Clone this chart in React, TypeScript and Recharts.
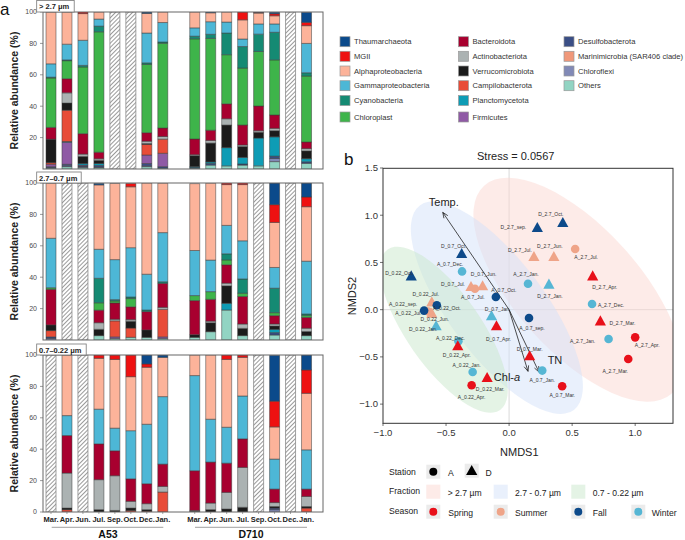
import React from 'react';
import { BarChart, Bar, XAxis, YAxis, ScatterChart, Scatter, ReferenceLine } from 'recharts';

const FONT = '"Liberation Sans", Arial, sans-serif';
const N = null;

// ---------- panel a: sample slots ----------
const months = ['Mar.', 'Apr.', 'Jun.', 'Jul.', 'Sep.', 'Oct.', 'Dec.', 'Jan.'];
const stations = ['A53', 'D710'];

// stacking order, bottom -> top
const taxa = [
  'Others', 'Chloroflexi', 'Marinimicrobia (SAR406 clade)', 'Desulfobacterota', 'Firmicutes',
  'Planctomycetota', 'Campilobacterota', 'Verrucomicrobiota', 'Actinobacteriota', 'Bacteroidota',
  'Chloroplast', 'Cyanobacteria', 'Gammaproteobacteria', 'Alphaproteobacteria', 'MGII', 'Thaumarchaeota',
];

// values: A53 Mar..Jan, then D710 Mar..Jan ; null = no sample (hatched)
// > 2.7 µm
const topThaum = [0, 0, 0, 0, N, N, 0.9, 0, 0, 0.5, 0, 0, 0.3, 1, N, 6.4];
const topMGII = [0, 0, 1, 0, N, N, 0, 0, 0, 0, 0, 5, 0.5, 1.3, N, 2.1];
const topAlpha = [33, 20.5, 17, 4.5, N, N, 12.5, 6.7, 10.1, 5.7, 6.4, 12.2, 6.9, 5.2, N, 11.3];
const topGamma = [8.5, 10, 16, 4.5, N, N, 19, 12.4, 5.3, 8, 7, 4.8, 6.5, 5.3, N, 18.7];
const topCyano = [0.5, 0.5, 1, 3.6, N, N, 1, 0.8, 1.7, 2.6, 13.8, 13.7, 11, 17.6, N, 2.1];
const topChloroplast = [31.5, 11.5, 42.5, 76.7, N, N, 43.5, 54, 63.8, 58.5, 31.3, 36.3, 34.8, 35.1, N, 42];
const topBactero = [7.5, 9, 13, 4.2, N, N, 5.4, 5.4, 10, 6.5, 9.5, 12.7, 15.7, 8.5, N, 4.2];
const topActino = [0, 6.5, 1.5, 1, N, N, 1.5, 1.7, 0.6, 1.7, 4, 1, 1, 1.5, N, 1.5];
const topVerruco = [15, 4.5, 4.5, 2, N, N, 0.5, 0, 7, 12, 14.4, 6.9, 3.7, 3.9, N, 4.9];
const topCampilo = [1, 20, 0, 0, N, N, 6.8, 9, 0, 0, 0, 0, 0, 0, N, 0];
const topPlancto = [0, 0.5, 1, 1.2, N, N, 0, 0, 0.5, 1, 11.6, 4.2, 17.7, 12.3, N, 2];
const topFirmi = [1.5, 14, 0.5, 0, N, N, 5.4, 8.5, 0, 0, 0, 0, 0, 0, N, 0];
const topDesulfo = [0.5, 1, 0.5, 1, N, N, 1.5, 1, 0.5, 1, 0, 0.7, 0, 1.5, N, 1];
const topChloroflexi = [0.5, 0.5, 0.5, 0.3, N, N, 0.5, 0, 0, 0, 0, 0, 0, 2, N, 0];
const topOthers = [0.5, 1.5, 1, 1, N, N, 1.5, 0.5, 0.5, 2.5, 2, 2.5, 2, 4.7, N, 3.6];

// 2.7 - 0.7 µm
const midThaum = [0, N, N, 1, 0, 0, 0, 0, 0, 0, 0, 0, N, 13.8, N, 9.1];
const midMGII = [0, N, N, 0, 0, 2.1, 0, 0, 0, 0, 1, 1, N, 11.3, N, 6.2];
const midAlpha = [35.1, N, N, 41, 48.5, 38.8, 58.1, 31.5, 42.6, 49, 26, 35.8, N, 28.7, N, 34.7];
const midGamma = [31.5, N, N, 18.5, 25.5, 31.4, 22.8, 31.3, 28.7, 20.1, 18.1, 24.3, N, 13.2, N, 33.6];
const midCyano = [0, N, N, 15.6, 0.8, 1, 1, 1, 0, 0, 3.9, 9.1, N, 15.6, N, 0.9];
const midChloroplast = [1, N, N, 4.7, 1.3, 5.3, 0, 0, 3.2, 4.9, 3.1, 2.1, N, 1.9, N, 1.3];
const midBactero = [22.7, N, N, 8, 10.4, 8.1, 11.7, 15.3, 21.7, 13.9, 11.7, 17.5, N, 5.3, N, 6.9];
const midActino = [0, N, N, 4.2, 1, 1, 0, 1.3, 0, 1, 1.7, 2.8, N, 1.3, N, 2.1];
const midVerruco = [3.6, N, N, 4, 0, 4.4, 4.7, 0, 1.7, 5.7, 11.1, 4.6, N, 2.1, N, 2.6];
const midCampilo = [4, N, N, 0, 10.2, 5.9, 0, 17.5, 0, 0, 0, 0, N, 0, N, 0];
const midPlancto = [0, N, N, 0, 0, 0, 0, 0, 0, 0, 4.3, 0, N, 2.1, N, 0];
const midFirmi = [0, N, N, 0, 1, 0, 0, 1, 0, 0, 0, 0, N, 0, N, 0];
const midDesulfo = [1, N, N, 0, 0, 0, 0, 0, 0, 0, 0, 0, N, 1.5, N, 0];
const midChloroflexi = [1, N, N, 0, 0, 0, 0, 0, 0, 0, 0, 0, N, 0, N, 0];
const midOthers = [0, N, N, 2.8, 1, 1.7, 1.7, 1, 1.7, 5.3, 19.1, 2.8, N, 3.2, N, 2.8];

// 0.7 - 0.22 µm
const lowThaum = [N, 0, N, 0, 0, 0, 5.7, 1.5, 0, 0, 0, 0, N, 29.2, N, 9.5];
const lowMGII = [N, 0, N, 2.1, 2.8, 13.8, 2.1, 0, 0, 0, 2.8, 1.5, N, 16.4, N, 14.9];
const lowAlpha = [N, 38.6, N, 32.4, 43.8, 34.4, 36.3, 25, 13.1, 40.9, 43.2, 24.6, N, 20.5, N, 36];
const lowGamma = [N, 12.7, N, 22.1, 14.4, 30.7, 37.9, 43, 60.6, 27.3, 22.9, 27.3, N, 19.1, N, 25];
const lowBactero = [N, 23.9, N, 22.8, 15.9, 14.3, 12.7, 14.2, 25.3, 26.1, 18.6, 18.2, N, 8.6, N, 4.7];
const lowActino = [N, 22.3, N, 19.1, 22.1, 4.3, 3.8, 3.6, 0.5, 4.2, 10.6, 25.4, N, 2.5, N, 6.4];
const lowVerruco = [N, 1, N, 1.5, 1, 1.5, 1, 0, 0.5, 1.5, 1.9, 3, N, 1, N, 1];
const lowCampilo = [N, 1.5, N, 0, 0, 1, 0.5, 12.7, 0, 0, 0, 0, N, 0, N, 2.5];
const lowDesulfo = [N, 0, N, 0, 0, 0, 0, 0, 0, 0, 0, 0, N, 1, N, 0];
const lowChloroflexi = [N, 0, N, 0, 0, 0, 0, 0, 0, 0, 0, 0, N, 1.5, N, 0];

const taxonColors: Record<string, string> = {
  Thaumarchaeota: '#0B4A8B',
  MGII: '#EE1111',
  Alphaproteobacteria: '#FCB39A',
  Gammaproteobacteria: '#4DB7D6',
  Cyanobacteria: '#158A73',
  Chloroplast: '#3EB44A',
  Bacteroidota: '#A8002F',
  Actinobacteriota: '#ABB2B2',
  Verrucomicrobiota: '#1B1B1B',
  Campilobacterota: '#E84C38',
  Planctomycetota: '#0E9CB5',
  Firmicutes: '#8F5AA5',
  Desulfobacterota: '#3A4E85',
  'Marinimicrobia (SAR406 clade)': '#F0987A',
  Chloroflexi: '#8189B6',
  Others: '#92D4C3',
};

type Series = Record<string, (number | null)[]>;

const topSeries: Series = {
  Thaumarchaeota: topThaum, MGII: topMGII, Alphaproteobacteria: topAlpha, Gammaproteobacteria: topGamma,
  Cyanobacteria: topCyano, Chloroplast: topChloroplast, Bacteroidota: topBactero, Actinobacteriota: topActino,
  Verrucomicrobiota: topVerruco, Campilobacterota: topCampilo, Planctomycetota: topPlancto, Firmicutes: topFirmi,
  Desulfobacterota: topDesulfo, Chloroflexi: topChloroflexi, Others: topOthers,
};
const midSeries: Series = {
  Thaumarchaeota: midThaum, MGII: midMGII, Alphaproteobacteria: midAlpha, Gammaproteobacteria: midGamma,
  Cyanobacteria: midCyano, Chloroplast: midChloroplast, Bacteroidota: midBactero, Actinobacteriota: midActino,
  Verrucomicrobiota: midVerruco, Campilobacterota: midCampilo, Planctomycetota: midPlancto, Firmicutes: midFirmi,
  Desulfobacterota: midDesulfo, Chloroflexi: midChloroflexi, Others: midOthers,
};
const lowSeries: Series = {
  Thaumarchaeota: lowThaum, MGII: lowMGII, Alphaproteobacteria: lowAlpha, Gammaproteobacteria: lowGamma,
  Bacteroidota: lowBactero, Actinobacteriota: lowActino, Verrucomicrobiota: lowVerruco,
  Campilobacterota: lowCampilo, Desulfobacterota: lowDesulfo, Chloroflexi: lowChloroflexi,
};

const buildRows = (series: Series) => {
  const rows: any[] = [];
  stations.forEach((st, s) => {
    if (s === 1) rows.push({ key: 'gap' });
    months.forEach((m, k) => {
      const i = s * 8 + k;
      const missing = series.Alphaproteobacteria[i] === null;
      const row: any = { key: `${st}|${m}`, NA: missing ? 100 : 0 };
      taxa.forEach((t) => {
        row[t] = missing ? 0 : (series[t]?.[i] ?? 0);
      });
      rows.push(row);
    });
  });
  return rows;
};

const MonthTick = (p: any) => {
  const { x, y, payload } = p;
  if (payload.value === 'gap') return null;
  return (
    <g>
      <line x1={x} y1={y - 4} x2={x} y2={y - 2} stroke="#666" strokeWidth={0.6} />
      <text x={x} y={y + 6} textAnchor="middle" fontSize={7.5} fontWeight="bold" fill="#222" fontFamily={FONT}>
        {payload.value.split('|')[1]}
      </text>
    </g>
  );
};

const AbundancePanel = ({ series, top, showMonths }: { series: Series; top: number; showMonths?: boolean }) => {
  const rows = buildRows(series);
  return (
    <div style={{ position: 'absolute', left: 0, top }}>
      <BarChart
        width={330}
        height={showMonths ? 185 : 172}
        data={rows}
        margin={{ top: 12, right: 7, bottom: showMonths ? 0 : 3, left: 0 }}
        barSize={10}
      >
        <XAxis
          dataKey="key"
          type="category"
          hide={!showMonths}
          height={16}
          interval={0}
          padding={{ left: 0, right: 8.5 }}
          axisLine={false}
          tickLine={false}
          tickSize={2}
          tickMargin={2}
          tick={<MonthTick />}
        />
        <YAxis
          width={43}
          type="number"
          domain={[0, 100]}
          allowDataOverflow
          ticks={[0, 20, 40, 60, 80, 100]}
          axisLine={false}
          tickSize={3}
          tickMargin={3}
          tickLine={{ stroke: '#555', strokeWidth: 0.6 }}
          tick={{ fontSize: 7, fill: '#4d4d4d', fontFamily: FONT }}
        />
        {taxa.map((t) => (
          <Bar key={t} dataKey={t} stackId="s" fill={taxonColors[t]} stroke="#3a3a3a" strokeWidth={0.5} isAnimationActive={false} />
        ))}
        <Bar dataKey="NA" stackId="s" fill="url(#hatch)" stroke="#8a8a8a" strokeWidth={0.8} isAnimationActive={false} />
      </BarChart>
    </div>
  );
};

// ---------- panel b: NMDS ----------
const sampleNames = [
  'D_2.7_sep.', 'D_2.7_Oct.', 'A_2.7_Jul.', 'D_2.7_Jul.', 'D_2.7_Jun.', 'A_2.7_Jan.', 'D_2.7_Jan.',
  'D_2.7_Apr.', 'A_2.7_Dec.', 'D_2.7_Mar.', 'A_2.7_Jan.', 'A_2.7_Apr.', 'A_2.7_Mar.',
  'D_0.7_Oct.', 'A_0.7_Dec.', 'D_0.7_Jun.', 'D_0.7_Jul.', 'A_0.7_Jul.', 'A_0.7_Oct.', 'D_0.7_Jan.',
  'D_0.7_Apr.', 'A_0.7_sep.', 'D_0.7_Mar.', 'A_0.7_Jan.', 'A_0.7_Mar.',
  'D_0.22_Oct.', 'A_0.22_Jul.', 'D_0.22_Jul.', 'A_0.22_sep.', 'A_0.22_Oct.', 'D_0.22_Jun.', 'D_0.22_Jan.',
  'A_0.22_Dec.', 'D_0.22_Apr.', 'A_0.22_Jan.', 'D_0.22_Mar.', 'A_0.22_Apr.',
];
const nmds1 = [
  0.224, 0.426, 0.524, 0.197, 0.355, 0.15, 0.316, 0.663, 0.658, 0.724, 0.789, 1.0, 0.945,
  -0.376, -0.373, -0.21, -0.302, -0.271, -0.105, -0.139, -0.1, 0.158, 0.163, 0.263, 0.421,
  -0.776, -0.64, -0.613, -0.674, -0.573, -0.613, -0.579, -0.402, -0.407, -0.289, -0.174, -0.297,
];
const nmds2 = [
  0.865, 0.917, 0.642, 0.557, 0.557, 0.275, 0.265, 0.352, 0.06, -0.124, -0.31, -0.293, -0.522,
  0.589, 0.405, 0.247, 0.24, 0.222, 0.134, -0.07, -0.176, -0.088, -0.494, -0.645, -0.811,
  0.352, -0.02, 0.077, -0.01, 0.046, -0.042, -0.176, -0.335, -0.388, -0.66, -0.723, -0.8,
];
// label placement (px) relative to each point, ggrepel-like
const labelNudge: [number, number][] = [
  [-24, -1], [-12, -9], [11, 8], [-14, -7], [-4, -11], [-2, -10], [1, 11], [12, 11], [19, 1], [22, 2], [-26, 2], [12, 8], [-13, 12],
  [-8, -8], [-12, -7], [1, -12], [-18, -3], [-2, 8], [8, -7], [6, -7], [2, 13], [3, 10], [0, -7], [0, 9], [0, 9],
  [-12, -3], [-20, 1], [-6, -8], [-21, -7], [10, 3], [3, 5], [-13, 3], [-8, -3], [-1, 9], [-6, -7], [3, 11], [0, 12],
];

const seasons = ['Spring', 'Summer', 'Fall', 'Winter'];
const seasonOfMonth: Record<string, string> = {
  'Mar.': 'Spring', 'Apr.': 'Spring', 'Jun.': 'Summer', 'Jul.': 'Summer',
  'sep.': 'Fall', 'Oct.': 'Fall', 'Dec.': 'Winter', 'Jan.': 'Winter',
};
const seasonColors: Record<string, string> = {
  Spring: '#E8101A', Summer: '#EFA488', Fall: '#0D4A8A', Winter: '#56B6D4',
};

const fractions = ['> 2.7 µm', '2.7 - 0.7 µm', '0.7 - 0.22 µm'];
const ellipseX = [0.545, -0.097, -0.517];
const ellipseY = [0.211, 0.021, -0.212];
const ellipseStyle = [
  { rx: 140, ry: 62, angle: 48, fill: '#FBD7D1' },
  { rx: 128, ry: 48, angle: 53, fill: '#D3E1F9' },
  { rx: 98, ry: 37, angle: 55, fill: '#C9E7CB' },
];

const envNames = ['Temp.', 'TN', 'Chl-a'];
const envX = [-0.526, 0.237, 0.15];
const envY = [1.03, -0.66, -0.653];
const envLabelNudge: [number, number][] = [[1, -10], [16, -12], [-21, 6]];

// plot size of the NMDS chart (px per unit, for arrow-head direction)
const PX_PER_X = 290 / 2.3;
const PX_PER_Y = 255 / 2.7;

const samplePoints = sampleNames.map((name, i) => ({
  name,
  x: nmds1[i],
  y: nmds2[i],
  station: name[0],
  season: seasonOfMonth[name.split('_')[2]],
  idx: i,
}));
const ellipsePoints = fractions.map((f, i) => ({ fraction: f, x: ellipseX[i], y: ellipseY[i], idx: i }));

const ellipseShape = (p: any) => {
  const e = ellipseStyle[p.payload.idx];
  return (
    <ellipse cx={p.cx} cy={p.cy} rx={e.rx} ry={e.ry} fill={e.fill} fillOpacity={0.5}
      transform={`rotate(${e.angle} ${p.cx} ${p.cy})`} />
  );
};

const triPoints = (cx: number, cy: number, s = 5.6) => `${cx},${cy - s * 1.08} ${cx - s},${cy + s * 0.72} ${cx + s},${cy + s * 0.72}`;

const pointShape = (p: any) => {
  const { cx, cy, payload } = p;
  const color = seasonColors[payload.season];
  const [dx, dy] = labelNudge[payload.idx];
  return (
    <g>
      {payload.station === 'A'
        ? <circle cx={cx} cy={cy} r={4.3} fill={color} />
        : <polygon points={triPoints(cx, cy)} fill={color} />}
      <text x={cx + dx} y={cy + dy} fontSize={5} textAnchor="middle" dominantBaseline="central" fill="#333" fontFamily={FONT}>
        {payload.name}
      </text>
    </g>
  );
};

const arrowTip = (p: any) => {
  const { cx, cy, payload } = p;
  if (!payload.tip) return <g />;
  const i = payload.env;
  const a = Math.atan2(-envY[i] * PX_PER_Y, envX[i] * PX_PER_X);
  const h = 6;
  const w = 0.4;
  const [dx, dy] = envLabelNudge[i];
  return (
    <g>
      <line x1={cx} y1={cy} x2={cx - h * Math.cos(a - w)} y2={cy - h * Math.sin(a - w)} stroke="#222" strokeWidth={0.8} />
      <line x1={cx} y1={cy} x2={cx - h * Math.cos(a + w)} y2={cy - h * Math.sin(a + w)} stroke="#222" strokeWidth={0.8} />
      <text x={cx + dx} y={cy + dy} fontSize={11} textAnchor="middle" dominantBaseline="central" fill="#222" fontFamily={FONT}>
        {envNames[i] === 'Chl-a' ? <>Chl-<tspan fontStyle="italic">a</tspan></> : envNames[i]}
      </text>
    </g>
  );
};

const fmt = (v: number) => (v < 0 ? '\u2212' : '') + Math.abs(v).toFixed(1);

const legendRowsA = [
  ['Thaumarchaeota', 'MGII', 'Alphaproteobacteria', 'Gammaproteobacteria', 'Cyanobacteria', 'Chloroplast'],
  ['Bacteroidota', 'Actinobacteriota', 'Verrucomicrobiota', 'Campilobacterota', 'Planctomycetota', 'Firmicutes'],
  ['Desulfobacterota', 'Marinimicrobia (SAR406 clade)', 'Chloroflexi', 'Others'],
];
const legendColX = [340, 458.5, 564];
const legendRowY = [41.7, 56.3, 71, 85.7, 100.5, 117];

export default function App() {
  return (
    <div style={{ position: 'absolute', left: 0, top: 0, width: 685, height: 540, background: '#fff', fontFamily: FONT }}>
      <svg width={0} height={0} style={{ position: 'absolute' }}>
        <defs>
          <pattern id="hatch" patternUnits="userSpaceOnUse" width={3} height={3} patternTransform="rotate(45)">
            <rect width={3} height={3} fill="#fff" />
            <line x1={0.5} y1={0} x2={0.5} y2={3} stroke="#9a9a9a" strokeWidth={1} />
          </pattern>
        </defs>
      </svg>

      <AbundancePanel series={topSeries} top={0} />
      <AbundancePanel series={midSeries} top={171} />
      <AbundancePanel series={lowSeries} top={343} showMonths />

      <div style={{ position: 'absolute', left: 335, top: 140 }}>
        <ScatterChart width={350} height={305} margin={{ top: 28, right: 12, bottom: 0, left: 0 }}>
          <XAxis dataKey="x" type="number" domain={[-1, 1.3]} allowDataOverflow ticks={[-1, -0.5, 0, 0.5, 1]}
            tickFormatter={fmt} height={22} axisLine={false} tickSize={3} tickMargin={3}
            tickLine={{ stroke: '#333', strokeWidth: 0.7 }} tick={{ fontSize: 9.5, fill: '#333', fontFamily: FONT }} />
          <YAxis dataKey="y" type="number" domain={[-1.2, 1.5]} allowDataOverflow ticks={[-1, -0.5, 0, 0.5, 1, 1.5]}
            tickFormatter={fmt} width={48} axisLine={false} tickSize={3} tickMargin={2}
            tickLine={{ stroke: '#333', strokeWidth: 0.7 }} tick={{ fontSize: 9.5, fill: '#333', fontFamily: FONT }} />
          <ReferenceLine x={0} stroke="#cfcfcf" strokeWidth={0.8} />
          <ReferenceLine y={0} stroke="#cfcfcf" strokeWidth={0.8} />
          <Scatter data={ellipsePoints} shape={ellipseShape} isAnimationActive={false} />
          {envNames.map((n, i) => (
            <Scatter
              key={n}
              data={[{ x: 0, y: 0, env: i, tip: false }, { x: envX[i], y: envY[i], env: i, tip: true }]}
              line={{ stroke: '#222', strokeWidth: 0.8 }}
              shape={arrowTip}
              isAnimationActive={false}
            />
          ))}
          <Scatter data={samplePoints} shape={pointShape} isAnimationActive={false} />
        </ScatterChart>
      </div>

      <svg width={685} height={540} style={{ position: 'absolute', left: 0, top: 0, pointerEvents: 'none' }} fontFamily={FONT}>
        {/* panel a frames */}
        {[12, 183, 355].map((y) => (
          <rect key={y} x={43} y={y} width={280} height={157} fill="none" stroke="#666" strokeWidth={1} />
        ))}
        <rect x={36.7} y={0.5} width={37.5} height={11.5} fill="#fff" stroke="#777" strokeWidth={0.8} />
        <text x={39} y={9} fontSize={7.5} fontWeight="bold" fill="#222">{'> 2.7 μm'}</text>
        <rect x={36.7} y={172} width={44.5} height={11} fill="#fff" stroke="#777" strokeWidth={0.8} />
        <text x={39} y={180.5} fontSize={7.5} fontWeight="bold" fill="#222">{'2.7–0.7 μm'}</text>
        <rect x={36.7} y={344} width={49.5} height={11} fill="#fff" stroke="#777" strokeWidth={0.8} />
        <text x={39} y={352.5} fontSize={7.5} fontWeight="bold" fill="#222">{'0.7–0.22 μm'}</text>

        <text x={0} y={15} fontSize={17} fill="#111">a</text>
        {[90.5, 261.5, 433.5].map((cy) => (
          <text key={cy} x={14} y={cy} fontSize={10.5} fontWeight="bold" fill="#222" textAnchor="middle"
            dominantBaseline="central" transform={`rotate(-90 14 ${cy})`}>Relative abundance (%)</text>
        ))}
        <line x1={51.7} y1={527.3} x2={163.3} y2={527.3} stroke="#888" strokeWidth={0.8} />
        <line x1={195} y1={527.3} x2={307} y2={527.3} stroke="#888" strokeWidth={0.8} />
        <text x={108} y={538} fontSize={10.5} fontWeight="bold" fill="#111" textAnchor="middle">A53</text>
        <text x={251} y={538} fontSize={10.5} fontWeight="bold" fill="#111" textAnchor="middle">D710</text>

        {/* panel a legend */}
        {legendRowsA.map((col, c) => col.map((t, r) => (
          <g key={t}>
            <rect x={legendColX[c]} y={legendRowY[r] - 5} width={10} height={10} fill={taxonColors[t]} stroke="#999" strokeWidth={0.7} />
            <text x={legendColX[c] + 14} y={legendRowY[r]} fontSize={7.6} fill="#333" dominantBaseline="central">{t}</text>
          </g>
        )))}

        {/* panel b frame + titles */}
        <rect x={383} y={168.3} width={290} height={255} fill="none" stroke="#333" strokeWidth={1} />
        <text x={344} y={165} fontSize={17} fill="#111">b</text>
        <text x={515.7} y={155.7} fontSize={11} fill="#222" textAnchor="middle" dominantBaseline="central">Stress = 0.0567</text>
        <text x={519.3} y={452.3} fontSize={11} fill="#222" textAnchor="middle" dominantBaseline="central">NMDS1</text>
        <text x={352} y={296} fontSize={11} fill="#222" textAnchor="middle" dominantBaseline="central"
          transform="rotate(-90 352 296)">NMDS2</text>

        {/* panel b legend */}
        <text x={389} y={471.7} fontSize={8.6} fill="#222" dominantBaseline="central">Station</text>
        <rect x={426.3} y={464.7} width={14} height={14} fill="#EBEBEB" />
        <circle cx={433.3} cy={471.7} r={4} fill="#000" />
        <text x={448} y={473} fontSize={8.6} fill="#222" dominantBaseline="central">A</text>
        <rect x={464.7} y={463.7} width={14} height={14} fill="#EBEBEB" />
        <polygon points={triPoints(471.7, 471)} fill="#000" />
        <text x={485.5} y={473} fontSize={8.6} fill="#222" dominantBaseline="central">D</text>

        <text x={389} y={491} fontSize={8.6} fill="#222" dominantBaseline="central">Fraction</text>
        {fractions.map((f, i) => {
          const bx = [426.3, 493.7, 571.3][i];
          const tx = [447.7, 515, 592.7][i];
          return (
            <g key={f}>
              <rect x={bx} y={484.7} width={14} height={14} fill={ellipseStyle[i].fill} fillOpacity={0.5} />
              <text x={tx} y={492.7} fontSize={8.6} fill="#222" dominantBaseline="central">{f}</text>
            </g>
          );
        })}

        <text x={389} y={510.7} fontSize={8.6} fill="#222" dominantBaseline="central">Season</text>
        {seasons.map((s, i) => {
          const bx = [426.3, 493.7, 571.3, 631.3][i];
          const tx = [448.3, 515, 592.7, 651.7][i];
          return (
            <g key={s}>
              <rect x={bx} y={504.7} width={14} height={14} fill="#EBEBEB" />
              <circle cx={bx + 7} cy={511.7} r={4} fill={seasonColors[s]} />
              <text x={tx} y={513} fontSize={8.6} fill="#222" dominantBaseline="central">{s}</text>
            </g>
          );
        })}
      </svg>
    </div>
  );
}
